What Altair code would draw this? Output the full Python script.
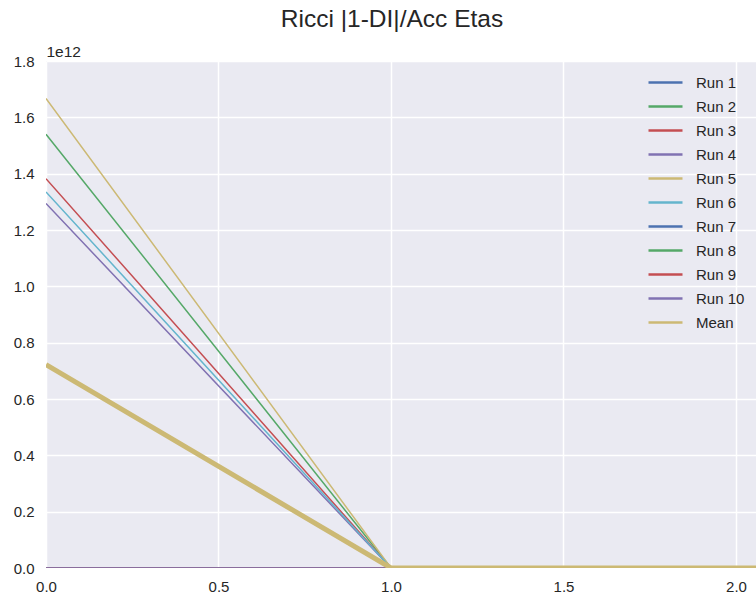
import altair as alt
import pandas as pd

series_names = ["Run 1", "Run 2", "Run 3", "Run 4", "Run 5", "Run 6",
                "Run 7", "Run 8", "Run 9", "Run 10", "Mean"]
x_steps = [0, 1, 2, 3]
# values in units of 1e12
run_values = {
    "Run 1": [0.0, 0.0, 0.0, 0.0],
    "Run 2": [1.540, 0.0, 0.0, 0.0],
    "Run 3": [1.382, 0.0, 0.0, 0.0],
    "Run 4": [1.294, 0.0, 0.0, 0.0],
    "Run 5": [1.667, 0.0, 0.0, 0.0],
    "Run 6": [1.335, 0.0, 0.0, 0.0],
    "Run 7": [0.0, 0.0, 0.0, 0.0],
    "Run 8": [0.0, 0.0, 0.0, 0.0],
    "Run 9": [0.0, 0.0, 0.0, 0.0],
    "Run 10": [0.0, 0.0, 0.0, 0.0],
    "Mean": [0.7218, 0.0, 0.0, 0.0],
}
palette = ["#4C72B0", "#55A868", "#C44E52", "#8172B2", "#CCB974", "#64B5CD",
           "#4C72B0", "#55A868", "#C44E52", "#8172B2", "#CCB974"]
x_ticks = [0.0, 0.5, 1.0, 1.5, 2.0]
y_ticks = [0.0, 0.2, 0.4, 0.6, 0.8, 1.0, 1.2, 1.4, 1.6, 1.8]

rows = []
for i, name in enumerate(series_names):
    for x, v in zip(x_steps, run_values[name]):
        rows.append({"series": name, "x": x, "y": v, "idx": i})
df = pd.DataFrame(rows)

FONT = "Liberation Sans"
TXT = "#262626"

chart = alt.Chart(df).mark_line(clip=True).encode(
    x=alt.X("x:Q", scale=alt.Scale(domain=[0, 2.058], nice=False, zero=False),
            axis=alt.Axis(values=x_ticks, format=".1f", title=None,
                          labelPadding=11, labelFlush=False)),
    y=alt.Y("y:Q", scale=alt.Scale(domain=[0, 1.8], nice=False),
            axis=alt.Axis(values=y_ticks, format=".1f", title="1e12",
                          labelPadding=12, labelFlush=False,
                          titleAngle=0, titleX=0, titleY=-5,
                          titleAlign="left", titleBaseline="alphabetic",
                          titleFontWeight="normal", titleFontSize=15.5,
                          titleFont=FONT, titleColor=TXT)),
    color=alt.Color("series:N", sort=series_names,
                    scale=alt.Scale(domain=series_names, range=palette),
                    legend=alt.Legend(title=None, orient="none",
                                      legendX=601, legendY=9.5,
                                      symbolType="stroke", symbolSize=1156,
                                      symbolStrokeWidth=2.5,
                                      labelFontSize=15, labelFont=FONT,
                                      labelColor=TXT, rowPadding=0,
                                      clipHeight=24,
                                      labelOffset=12)),
    strokeWidth=alt.condition(alt.datum.series == "Mean", alt.value(5), alt.value(1.5)),
    order=alt.Order("x:Q"),
    detail="idx:O",
).properties(
    width=710, height=507,
    title=alt.TitleParams("Ricci |1-DI|/Acc Etas", fontSize=24.5, font=FONT,
                          fontWeight="normal", color=TXT, anchor="middle",
                          dx=-9, offset=12),
    autosize=alt.AutoSizeParams(type="none"),
    padding={"left": 46, "top": 61, "right": 0, "bottom": 33},
).configure(
    background="#FFFFFF",
    view=alt.ViewConfig(fill="#EAEAF2", stroke=None),
    axis=alt.AxisConfig(grid=True, gridColor="#FFFFFF", gridWidth=1.5,
                        domain=False, ticks=False, labelFont=FONT,
                        labelFontSize=15, labelColor=TXT),
)

chart.save("out.html", embed_options={"renderer": "svg", "actions": False})
